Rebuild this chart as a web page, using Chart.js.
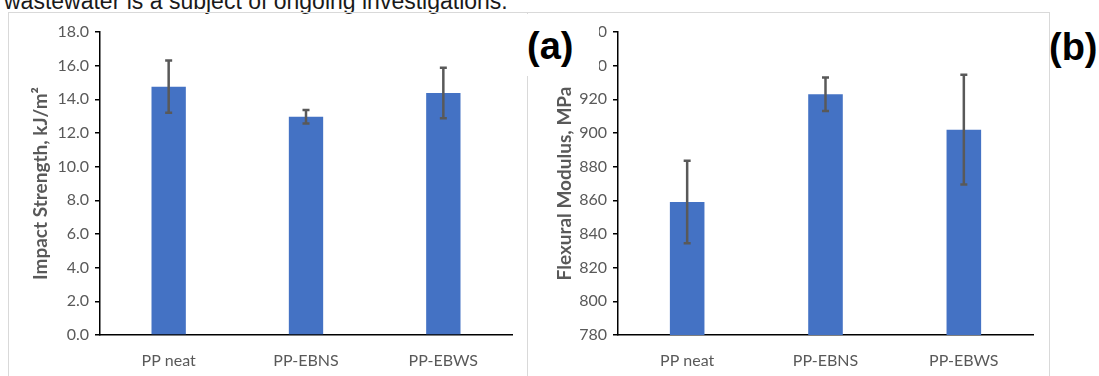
<!DOCTYPE html>
<html>
<head>
<meta charset="utf-8">
<script src="https://cdn.jsdelivr.net/npm/chart.js@4.4.1/dist/chart.umd.min.js"></script>
<style>
  body { margin: 0; background: #fff; width: 1099px; height: 376px; overflow: hidden; position: relative; }
  .frame { position: absolute; top: 12px; height: 380px; border-top: 1px solid #d9d9d9; box-sizing: border-box; }
  #frameA { left: 8px; width: 520px; border-left: 1px solid #d9d9d9; border-right: 1px solid #d9d9d9; }
  #frameB { left: 528px; width: 522px; border-right: 1px solid #d9d9d9; }
  .holder { position: absolute; top: 13px; }
  #topText { position: absolute; left: 4px; top: -10px; font: 23px "Liberation Sans", Arial, sans-serif; line-height: 23px; color: #1a1a1a; white-space: nowrap; }
  .mask { position: absolute; background: #fff; }
  .tag { position: absolute; font: bold 38px "Liberation Sans", Arial, sans-serif; line-height: 38px; color: #000; }
</style>
</head>
<body>
<div id="topText">wastewater is a subject of ongoing investigations.</div>
<div class="frame" id="frameA"></div>
<div class="frame" id="frameB"></div>
<div class="holder" style="left:8px"><canvas id="chartA" width="519" height="363"></canvas></div>
<div class="holder" style="left:528px"><canvas id="chartB" width="520" height="363"></canvas></div>
<div class="mask" style="left:515px; top:14px; width:84px; height:62px"></div>
<div class="tag" style="left:527px; top:27px">(a)</div>
<div class="tag" style="left:1049px; top:28px">(b)</div>
<script>
// samples
const categories = ["PP neat", "PP-EBNS", "PP-EBWS"];

// (a) impact strength, kJ/m2
const impactValues = [14.75, 12.97, 14.37];
const impactErrors = [1.55, 0.4, 1.5];

// (b) flexural modulus, MPa
const modulusValues = [859, 923, 902];
const modulusErrors = [24.5, 10, 32.6];

const barColor = "#4472C4";
const textGrey = "#595959";
const fontName = "Lato, 'Open Sans', sans-serif";

// draws +/- error bars on top of the bars
const errorBars = {
  id: "errorBars",
  afterDatasetsDraw(chart, args, opts) {
    const ctx = chart.ctx;
    const y = chart.scales.y;
    const meta = chart.getDatasetMeta(0);
    const data = chart.data.datasets[0].data;
    ctx.save();
    ctx.strokeStyle = "#595959";
    ctx.lineWidth = 2.5;
    meta.data.forEach((bar, i) => {
      const top = y.getPixelForValue(data[i] + opts.errors[i]);
      const bot = y.getPixelForValue(data[i] - opts.errors[i]);
      ctx.beginPath();
      ctx.moveTo(bar.x, top);
      ctx.lineTo(bar.x, bot);
      ctx.moveTo(bar.x - 3.5, top);
      ctx.lineTo(bar.x + 3.5, top);
      ctx.moveTo(bar.x - 3.5, bot);
      ctx.lineTo(bar.x + 3.5, bot);
      ctx.stroke();
    });
    ctx.restore();
  },
};

function createChart(id, values, errors, yMin, yMax, step, decimals, title, yWidth, titlePad) {
  const ctx = document.getElementById(id).getContext("2d");
  return new Chart(ctx, {
    type: "bar",
    data: {
      labels: categories,
      datasets: [
        {
          data: values,
          backgroundColor: barColor,
          categoryPercentage: 1,
          barPercentage: 0.25,
        },
      ],
    },
    plugins: [errorBars],
    options: {
      responsive: false,
      animation: false,
      devicePixelRatio: 1,
      layout: { padding: { top: 19, right: 15, bottom: 0, left: 0 } },
      plugins: {
        legend: { display: false },
        tooltip: { enabled: false },
        errorBars: { errors: errors },
      },
      scales: {
        x: {
          grid: { display: true, drawOnChartArea: false, drawTicks: false },
          border: { display: true, color: "#000", width: 1.5 },
          ticks: { color: textGrey, font: { family: fontName, size: 16 }, padding: 16 },
          afterFit: (scale) => { scale.height = 41; },
        },
        y: {
          min: yMin,
          max: yMax,
          grid: { drawOnChartArea: false, drawTicks: true, tickLength: 5, color: "#000", lineWidth: 1.5 },
          border: { display: true, color: "#000", width: 1.5 },
          ticks: {
            stepSize: step,
            color: textGrey,
            font: { family: fontName, size: 16 },
            padding: 6,
            callback: (v) => v.toFixed(decimals),
          },
          title: {
            display: true,
            text: title,
            color: textGrey,
            font: { family: fontName, size: 19, weight: "bold" },
            padding: { top: titlePad, bottom: 0 },
          },
          afterFit: (scale) => { scale.width = yWidth; },
        },
      },
    },
  });
}

createChart("chartA", impactValues, impactErrors, 0, 18, 2, 1, "Impact Strength, kJ/m\u00B2", 92, 21);
createChart("chartB", modulusValues, modulusErrors, 780, 960, 20, 0, "Flexural Modulus, MPa", 90, 25);
</script>
</body>
</html>
